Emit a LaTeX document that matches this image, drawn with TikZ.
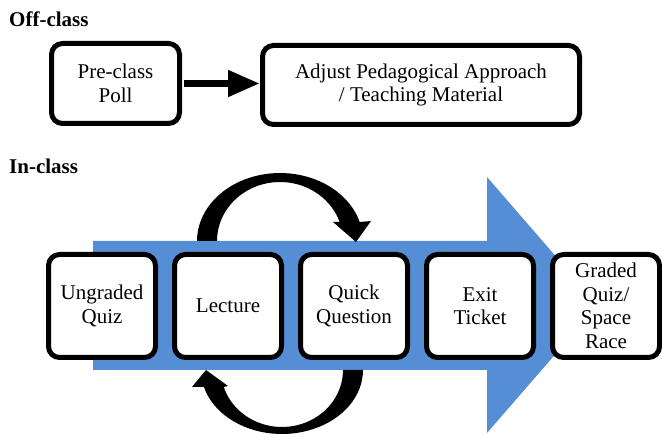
\documentclass[tikz,border=0pt]{standalone}
\usepackage{fontspec}
\setmainfont{Liberation Serif}
\usetikzlibrary{arrows.meta}
\definecolor{bandblue}{RGB}{85,142,213}
\tikzset{
  stepbox/.style={draw, line width=5pt, rounded corners=11pt, fill=white, align=center, inner sep=0pt, minimum width=107pt, minimum height=103pt, font=\fontsize{21}{23.5}\selectfont},
  pollbox/.style={stepbox, minimum width=128pt, minimum height=80pt},
  heading/.style={anchor=base west, inner sep=0pt, font=\fontsize{21}{23.5}\selectfont\bfseries},
  cyclearrow/.style={fill=black}
}
\begin{document}
\begin{tikzpicture}[x=1pt,y=-1pt]
  \useasboundingbox (0,0) rectangle (662,435);
  \node[heading] (offclass) at (9,27) {Off-class};
  \node[pollbox] (poll) at (115.5,83.5) {Pre-class\\Poll};
  \node[pollbox, minimum width=317pt, minimum height=79pt] (adjust) at (421,85) {Adjust Pedagogical Approach\\/ Teaching Material};
  \draw[-{Triangle[length=32pt,width=25pt]}, line width=7.5pt, shorten <=2pt] (poll.east) -- (poll.east -| adjust.west);

  \node[heading] (inclass) at (9,174) {In-class};
  \fill[bandblue] (93,241) -- (487,241) -- (487,177) -- (598,305) -- (487,433) -- (487,370) -- (93,370) -- cycle;
  \fill[cyclearrow] plot[domain=180:343.8, samples=40] ({280+83*cos(\x)},{241+68*sin(\x)}) -- (371,221) -- (356,242) -- (333,222) -- plot[domain=341.2:180, samples=40] ({280+63*cos(\x)},{241+59*sin(\x)}) -- cycle;
  \fill[cyclearrow] plot[domain=0:164.6, samples=40] ({282+81*cos(\x)},{370+64*sin(\x)}) -- (192,387) -- (206,370) -- (228,386) -- plot[domain=162.65:0, samples=40] ({282+61*cos(\x)},{370+57*sin(\x)}) -- cycle;
  \node[stepbox] (ungraded) at (102,306) {Ungraded\\Quiz};
  \node[stepbox] (lecture) at (228,306) {Lecture};
  \node[stepbox] (quick) at (354,306) {Quick\\Question};
  \node[stepbox] (exit) at (480,306) {Exit\\Ticket};
  \node[stepbox] (graded) at (606,306) {Graded\\Quiz/\\Space\\Race};
\end{tikzpicture}
\end{document}
